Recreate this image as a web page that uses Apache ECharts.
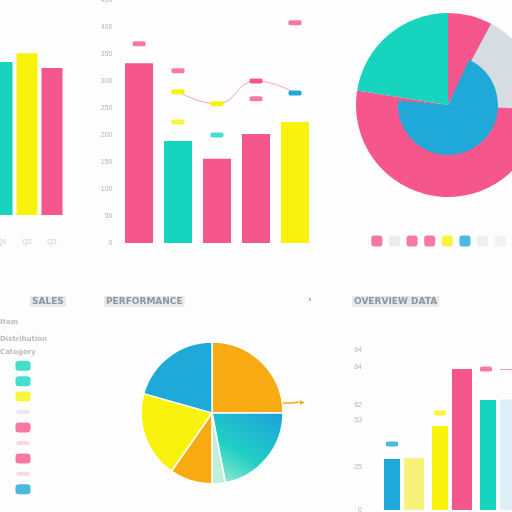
<!DOCTYPE html>
<html><head><meta charset="utf-8">
<script src="https://cdn.jsdelivr.net/npm/echarts@6/dist/echarts.min.js"></script>
<style>html,body{margin:0;padding:0;background:#fff}#c{width:512px;height:512px}</style>
</head><body><div id="c"></div>
<script>
const PINK='#f5578c', TEAL='#17d4bf', YEL='#f8f20c', BLUE='#1fa9d8', ORANGE='#f8aa12', GREY='#d6dde2';

// ---- top-left bar chart
const tlCats=['Q1','Q2','Q3'];
const tlVals=[78.5,83,75.4];
const tlColors=[TEAL,YEL,PINK];

// ---- top-middle bar chart
const tmCats=['A','B','C','D','E'];
const tmVals=[333,189,156,202,224];
const tmColors=[PINK,TEAL,PINK,PINK,YEL];
const tmLine=[null,280,258,300,278];
const tmLineColors=[null,YEL,YEL,PINK,BLUE];
const tmMarkCats=[0,1,1,2,3,4];
const tmMarkVals=[369,319,224,200,267,408];
const tmMarkColors=[PINK,PINK,YEL,TEAL,PINK,PINK];

// ---- top-right pie
const trNames=['North','East','South','West'];
const trVals=[7.8,18,51.7,22.5];
const trColors=[PINK,GREY,PINK,TEAL];
const trInnerNames=['Core','Other'];
const trInnerVals=[69.4,30.6];
const trInnerColors=[BLUE,'rgba(0,0,0,0)'];
const trLegendNames=['a','b','c','d','e','f','g','h'];
const trLegendColors=[PINK,'#e4e8ea',PINK,PINK,YEL,BLUE,'#e8ebed','#eceef0'];

// ---- bottom-left legend
const blRows=['r1','r2','r3','r4','r5','r6','r7','r8','r9'];
const blColors=[TEAL,TEAL,YEL,'#e2e4e6',PINK,'#f8cddb',PINK,'#f8cddb',BLUE];
const blFaint=[false,false,false,true,false,true,false,true,false];

// ---- bottom pie
const bpNames=['Alpha','Beta','Gamma','Delta','Epsilon','Zeta'];
const bpVals=[25,22,3,9.7,19.7,20.6];

// ---- bottom-right bars
const brCats=['A','B','C','D'];
const brS1=[30,49.4,64.7];
const brS1Colors=[BLUE,YEL,TEAL];
const brS2=[30.6,82.9,65];
const brS2Colors=['#f7f27a',PINK,'#dceff7'];
const brMarkCats=[0,1,2];
const brMarkVals=[38.8,57,83];
const brMarkColors=[BLUE,YEL,PINK];
const brTicks=[0,25,53,62,84,94];

const bpColors=[ORANGE,
  {type:'linear',x:0.8,y:0,x2:0.2,y2:1,colorStops:[{offset:0,color:'#1ea6da'},{offset:0.6,color:'#20cfc4'},{offset:1,color:'#8fe8cf'}]},
  '#bff0da',ORANGE,YEL,BLUE];

const hdr={fontSize:9,fontWeight:'bold',color:'#8e969b',fontFamily:'DejaVu Sans'};
const hdrBg='#e6eaec';
const small={fontSize:7,color:'#b9bcbf',fontFamily:'DejaVu Sans'};
const NB={outerBoundsMode:'none',containLabel:false};

const BP_C=[212,413], BP_R=71;
const guideAngle=8*Math.PI/180;
const gx=BP_C[0]+BP_R*Math.cos(guideAngle), gy=BP_C[1]-BP_R*Math.sin(guideAngle);

const chart=echarts.init(document.getElementById('c'));
chart.setOption({
  animation:false,
  backgroundColor:'#fdfdfd',
  title:[
    {text:'SALES',left:30,top:296,textStyle:hdr,backgroundColor:hdrBg,padding:[1,2]},
    {text:'PERFORMANCE',left:104,top:296,textStyle:hdr,backgroundColor:hdrBg,padding:[1,2]},
    {text:'›',left:306,top:294,textStyle:hdr,padding:[1,2]},
    {text:'OVERVIEW',left:352,top:296,textStyle:hdr,backgroundColor:hdrBg,padding:[1,2]},
    {text:'DATA',left:409,top:296,textStyle:hdr,backgroundColor:hdrBg,padding:[1,2]},
    {text:'Item',left:0,top:319,textStyle:small,padding:0},
    {text:'Distribution',left:0,top:336,textStyle:small,padding:0},
    {text:'Category',left:0,top:349,textStyle:small,padding:0}
  ],
  grid:[
    Object.assign({left:-10.5,top:20,width:75,height:195},NB),
    Object.assign({left:119.5,top:0,width:195,height:243},NB),
    Object.assign({left:368,top:233,width:141,height:16},NB),
    Object.assign({left:15,top:358,width:16,height:139},NB),
    Object.assign({left:380,top:340,width:192,height:170},NB)
  ],
  xAxis:[
    {gridIndex:0,type:'category',data:tlCats,axisLine:{show:false},axisTick:{show:false},axisLabel:{color:'#c9c9c9',fontSize:7,margin:24}},
    {gridIndex:1,type:'category',data:tmCats,show:false},
    {gridIndex:2,type:'category',data:trLegendNames,show:false},
    {gridIndex:3,type:'value',min:0,max:1,show:false},
    {gridIndex:4,type:'category',data:brCats,show:false}
  ],
  yAxis:[
    {gridIndex:0,type:'value',min:0,max:100,show:false},
    {gridIndex:1,type:'value',min:0,max:450,interval:50,axisLine:{show:false},axisTick:{show:false},splitLine:{show:false},axisLabel:{color:'#b5b5b5',fontSize:7,margin:7}},
    {gridIndex:2,type:'value',min:0,max:1,show:false},
    {gridIndex:3,type:'category',data:blRows,inverse:true,show:false},
    {gridIndex:4,type:'value',min:0,max:100,axisLine:{show:false},axisTick:{show:false},splitLine:{show:false},axisLabel:{color:'#b5b5b5',fontSize:7,margin:18,customValues:brTicks}}
  ],
  series:[
    {type:'bar',xAxisIndex:0,yAxisIndex:0,barWidth:21,
      data:tlVals.map((v,i)=>({value:v,itemStyle:{color:tlColors[i]}}))},
    {type:'bar',xAxisIndex:1,yAxisIndex:1,barWidth:28,
      data:tmVals.map((v,i)=>({value:v,itemStyle:{color:tmColors[i]}}))},
    {type:'line',xAxisIndex:1,yAxisIndex:1,smooth:true,symbol:'roundRect',symbolSize:[13,5],
      lineStyle:{color:PINK,width:1,opacity:0.55},
      data:tmLine.map((v,i)=>({value:v,itemStyle:{color:tmLineColors[i]||PINK}}))},
    {type:'scatter',xAxisIndex:1,yAxisIndex:1,symbol:'roundRect',symbolSize:[13,5],
      data:tmMarkCats.map((c,i)=>({value:[c,tmMarkVals[i]],itemStyle:{color:tmMarkColors[i]}}))},
    {type:'pie',center:[448,105],radius:[0,92],startAngle:90,clockwise:true,label:{show:false},labelLine:{show:false},
      emphasis:{disabled:true},
      data:trVals.map((v,i)=>({name:trNames[i],value:v,itemStyle:{color:trColors[i]}}))},
    {type:'pie',center:[448,105],radius:[0,50],startAngle:65,clockwise:true,label:{show:false},labelLine:{show:false},
      emphasis:{disabled:true},
      data:trInnerVals.map((v,i)=>({name:trInnerNames[i],value:v,itemStyle:{color:trInnerColors[i]}}))},
    {type:'scatter',xAxisIndex:2,yAxisIndex:2,symbol:'roundRect',symbolSize:11,
      data:trLegendNames.map((n,i)=>({value:[i,0.5],itemStyle:{color:trLegendColors[i]}}))},
    {type:'scatter',xAxisIndex:3,yAxisIndex:3,symbol:'roundRect',
      data:blRows.map((n,i)=>({value:[0.5,i],symbolSize:blFaint[i]?[13,4]:[15,10],itemStyle:{color:blColors[i]}}))},
    {type:'pie',center:BP_C,radius:[0,BP_R],startAngle:90,clockwise:true,
      emphasis:{disabled:true},
      itemStyle:{borderColor:'#fff',borderWidth:1.5},
      labelLayout:function(p){
        if(p.dataIndex!==0) return {};
        return {x:gx+18,y:gy-1,align:'left',verticalAlign:'middle',
          labelLinePoints:[[gx,gy],[gx+9,gy],[gx+17,gy-1]]};
      },
      data:bpVals.map((v,i)=>({name:bpNames[i],value:v,itemStyle:{color:bpColors[i]},
        label:{show:i===0,formatter:'▶',color:ORANGE,fontSize:6},
        labelLine:{show:i===0,length:4,length2:14,lineStyle:{color:ORANGE,width:1.5}}}))},
    {type:'bar',xAxisIndex:4,yAxisIndex:4,barWidth:16,barGap:'25%',
      data:brS1.map((v,i)=>({value:v,itemStyle:{color:brS1Colors[i]}}))},
    {type:'bar',xAxisIndex:4,yAxisIndex:4,barWidth:20,
      data:brS2.map((v,i)=>({value:v,itemStyle:{color:brS2Colors[i]}}))},
    {type:'scatter',xAxisIndex:4,yAxisIndex:4,symbol:'roundRect',symbolSize:[12,5],
      data:brMarkCats.map((c,i)=>({value:[c,brMarkVals[i]],symbolOffset:[i===2?-14:-12,0],itemStyle:{color:brMarkColors[i]}})),
      markLine:{silent:true,symbol:'none',label:{show:false},lineStyle:{color:PINK,width:1,type:'solid',opacity:0.6},
        data:[[{coord:[2,brMarkVals[2]]},{coord:[3,brMarkVals[2]]}]]}}
  ]
});
</script></body></html>
